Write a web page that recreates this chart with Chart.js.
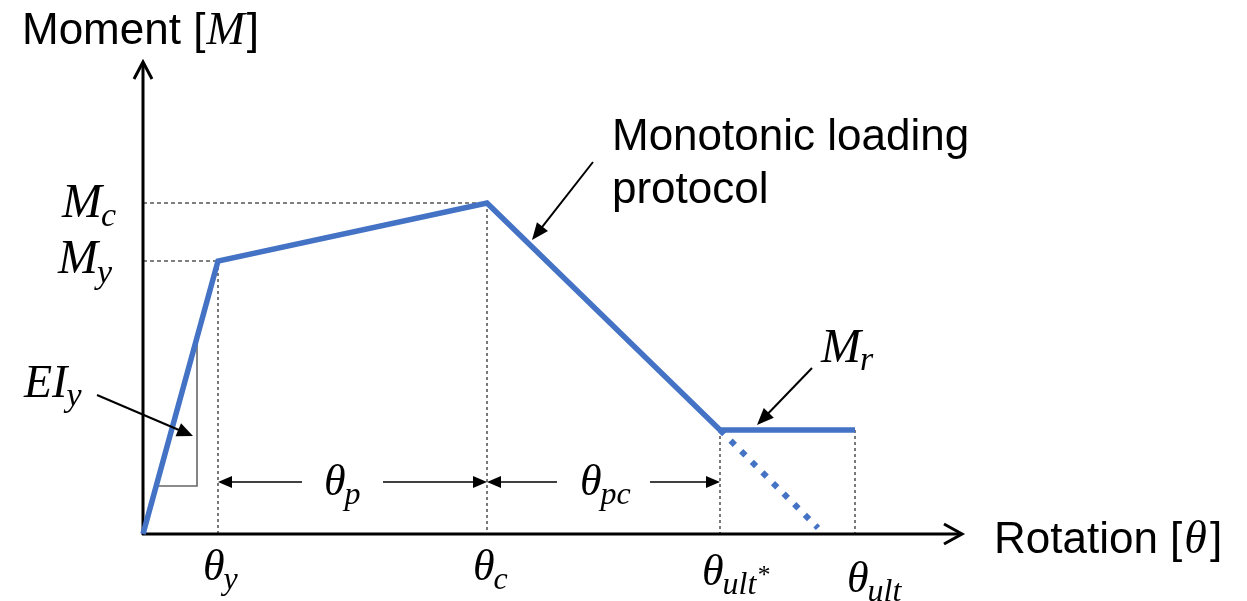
<!DOCTYPE html>
<html><head><meta charset="utf-8">
<script src="https://cdn.jsdelivr.net/npm/chart.js@4"></script>
<style>html,body{margin:0;padding:0;background:#fff;}#wrap{width:1247px;height:601px;}</style>
</head><body><div id="wrap"><canvas id="c" width="1247" height="601"></canvas></div>
<script>
// ---- data (schematic units) ----
const pointNames   = ['origin', 'yield', 'capping', 'ultimate*', 'ultimate'];
const thetaValues  = [0, 0.75, 3.44, 5.77, 7.12];
const momentValues = [0, 2.73, 3.31, 1.04, 1.04];
const dashedTheta  = [5.77, 6.75];
const dashedMoment = [1.04, 0.06];
const thetaTickLabels = [['θ','y'], ['θ','c'], ['θ','ult*'], ['θ','ult']];
const momentTickLabels = [['M','c'], ['M','y']];
const axisTitles = { x: 'Rotation', y: 'Moment' };
const calloutText = ['Monotonic loading', 'protocol'];
const slopeTriangle = { theta: 0.54, low: 0.48 };

const thY = thetaValues[1], thC = thetaValues[2], thU1 = thetaValues[3], thU = thetaValues[4];
const My = momentValues[1], Mc = momentValues[2], Mr = momentValues[3];

const BLUE = '#4472C4';
const SANS = '"Liberation Sans", Arial, sans-serif';
const SERIF = '"Liberation Serif", "Times New Roman", serif';

function toPts(xs, ys){ return xs.map((v,i)=>({x:v, y:ys[i]})); }

function line(ctx,x1,y1,x2,y2){ ctx.beginPath(); ctx.moveTo(x1,y1); ctx.lineTo(x2,y2); ctx.stroke(); }
function headFilled(ctx, tx, ty, fx, fy, len, half){
  const a = Math.atan2(ty-fy, tx-fx);
  ctx.beginPath();
  ctx.moveTo(tx,ty);
  ctx.lineTo(tx - len*Math.cos(a) + half*Math.sin(a), ty - len*Math.sin(a) - half*Math.cos(a));
  ctx.lineTo(tx - len*Math.cos(a) - half*Math.sin(a), ty - len*Math.sin(a) + half*Math.cos(a));
  ctx.closePath(); ctx.fill();
}
function arrow(ctx, fx, fy, tx, ty, len=15, half=6){
  const a = Math.atan2(ty-fy, tx-fx);
  line(ctx, fx, fy, tx - (len-2)*Math.cos(a), ty - (len-2)*Math.sin(a));
  headFilled(ctx, tx, ty, fx, fy, len, half);
}
function math(ctx, base, sub, x, y, size, subSize, subDrop, align){
  ctx.font = 'italic ' + size + 'px ' + SERIF;
  const bw = ctx.measureText(base).width;
  ctx.font = 'italic ' + subSize + 'px ' + SERIF;
  let s = sub, star = false;
  if (s.endsWith('*')) { star = true; s = s.slice(0,-1); }
  const sw = ctx.measureText(s).width;
  let starW = 0;
  if (star){ ctx.font = 'italic ' + (subSize*0.8) + 'px ' + SERIF; starW = ctx.measureText('*').width; }
  const total = bw + sw + starW;
  const x0 = align === 'center' ? x - total/2 : (align === 'right' ? x - total : x);
  ctx.textAlign = 'left'; ctx.textBaseline = 'alphabetic';
  ctx.font = 'italic ' + size + 'px ' + SERIF;
  ctx.fillText(base, x0, y);
  ctx.font = 'italic ' + subSize + 'px ' + SERIF;
  ctx.fillText(s, x0 + bw - 1, y + subDrop);
  if (star){ ctx.font = 'italic ' + (subSize*0.8) + 'px ' + SERIF; ctx.fillText('*', x0 + bw - 1 + sw, y + subDrop - subSize*0.35); }
}

const sketch = {
  id: 'sketch',
  beforeDatasetsDraw(chart){
    const {ctx, scales:{x, y}} = chart;
    const X = v => x.getPixelForValue(v), Y = v => y.getPixelForValue(v);
    ctx.save();
    // guide lines
    ctx.strokeStyle = '#555'; ctx.lineWidth = 1.3;
    ctx.setLineDash([4,3]);
    line(ctx, X(0), Y(Mc), X(thC), Y(Mc));
    line(ctx, X(0), Y(My), X(thY), Y(My));
    ctx.strokeStyle = '#222'; ctx.lineWidth = 1.2;
    ctx.setLineDash([3,3]);
    line(ctx, X(thY), Y(My), X(thY), Y(0));
    line(ctx, X(thC), Y(Mc), X(thC), Y(0));
    line(ctx, X(thU1), Y(Mr), X(thU1), Y(0));
    line(ctx, X(thU), Y(Mr), X(thU), Y(0));
    ctx.setLineDash([]);
    // slope triangle
    const tTop = slopeTriangle.theta * My / thY;
    const tLeft = slopeTriangle.low * thY / My;
    ctx.strokeStyle = '#666'; ctx.lineWidth = 1.6;
    ctx.beginPath();
    ctx.moveTo(X(slopeTriangle.theta), Y(tTop));
    ctx.lineTo(X(slopeTriangle.theta), Y(slopeTriangle.low));
    ctx.lineTo(X(tLeft), Y(slopeTriangle.low));
    ctx.stroke();
    // axes
    ctx.strokeStyle = '#000'; ctx.lineWidth = 3; ctx.lineJoin = 'miter'; ctx.lineCap = 'butt';
    line(ctx, X(0) - 1, Y(0), X(x.max) - 2, Y(0));
    line(ctx, X(0), Y(0) + 1, X(0), Y(y.max) + 2);
    ctx.beginPath();
    ctx.moveTo(X(x.max) - 18, Y(0) - 10); ctx.lineTo(X(x.max), Y(0)); ctx.lineTo(X(x.max) - 18, Y(0) + 10);
    ctx.stroke();
    ctx.beginPath();
    ctx.moveTo(X(0) - 9, Y(y.max) + 17); ctx.lineTo(X(0), Y(y.max)); ctx.lineTo(X(0) + 9, Y(y.max) + 17);
    ctx.stroke();
    ctx.restore();
  },
  afterDatasetsDraw(chart){
    const {ctx, scales:{x, y}} = chart;
    const X = v => x.getPixelForValue(v), Y = v => y.getPixelForValue(v);
    ctx.save();
    ctx.fillStyle = '#000'; ctx.strokeStyle = '#000';
    // axis titles
    ctx.textBaseline = 'alphabetic'; ctx.textAlign = 'left';
    ctx.font = '44px ' + SANS;
    let t = axisTitles.y + ' [';
    ctx.fillText(t, 22, 44);
    let w = ctx.measureText(t).width;
    ctx.font = 'italic 46px ' + SERIF;
    ctx.fillText('M', 22 + w + 1, 44);
    let w2 = ctx.measureText('M').width;
    ctx.font = '44px ' + SANS;
    ctx.fillText(']', 22 + w + w2 + 3, 44);

    t = axisTitles.x + ' [';
    ctx.fillText(t, 994, 553);
    w = ctx.measureText(t).width;
    ctx.font = 'italic 46px ' + SERIF;
    ctx.fillText('θ', 994 + w + 2, 553);
    w2 = ctx.measureText('θ').width;
    ctx.font = '44px ' + SANS;
    ctx.fillText(']', 994 + w + w2 + 5, 553);

    // callout text
    ctx.font = '44px ' + SANS;
    ctx.fillText(calloutText[0], 612, 150);
    ctx.fillText(calloutText[1], 612, 203);

    // y labels
    math(ctx, momentTickLabels[0][0], momentTickLabels[0][1], X(0) - 26, Y(Mc) + 14, 48, 34, 9, 'right');
    math(ctx, momentTickLabels[1][0], momentTickLabels[1][1], X(0) - 30, Y(My) + 12, 48, 34, 10, 'right');

    // x labels (left edges relative to their theta value)
    const xs = [thY, thC, thU1, thU];
    const dx = [-15, -14, -18, -8];
    const dy = [46, 46, 51, 58];
    thetaTickLabels.forEach((lab, i) => {
      math(ctx, lab[0], lab[1], X(xs[i]) + dx[i], Y(0) + dy[i], 44, 32, 9, 'left');
    });

    // EI_y
    math(ctx, 'EI', 'y', 24, 397, 46, 34, 9, 'left');
    ctx.lineWidth = 2;
    arrow(ctx, 97, 395, X(slopeTriangle.theta) - 4, Y(1.0) + 2, 16, 7);

    // Monotonic arrow
    arrow(ctx, 593, 162, 532, 240, 17, 7);
    // M_r
    math(ctx, 'M', 'r', 821, 362, 48, 34, 8, 'left');
    arrow(ctx, 812, 368, 757, Y(Mr) - 5, 17, 7);

    // dimension arrows
    const dimY = Y(0) - 52;
    ctx.lineWidth = 1.5;
    arrow(ctx, 302, dimY, X(thY), dimY, 14, 6);
    arrow(ctx, 383, dimY, X(thC), dimY, 14, 6);
    arrow(ctx, 557, dimY, X(thC), dimY, 14, 6);
    arrow(ctx, 650, dimY, X(thU1), dimY, 14, 6);
    math(ctx, 'θ', 'p', 324, dimY + 13, 44, 32, 9, 'left');
    math(ctx, 'θ', 'pc', 580, dimY + 13, 44, 32, 9, 'left');
    ctx.restore();
  }
};

new Chart(document.getElementById('c'), {
  type: 'scatter',
  data: {
    datasets: [
      { label: 'Monotonic loading protocol', data: toPts(thetaValues, momentValues), showLine: true,
        borderColor: BLUE, backgroundColor: BLUE, borderWidth: 5.5, pointRadius: 0, tension: 0,
        borderJoinStyle: 'miter', borderCapStyle: 'butt', clip: false },
      { label: 'degradation', data: toPts(dashedTheta, dashedMoment), showLine: true,
        borderColor: BLUE, borderWidth: 6, borderDash: [6, 9], pointRadius: 0, tension: 0, clip: false }
    ]
  },
  options: {
    responsive: false, animation: false, devicePixelRatio: 1,
    layout: { padding: { left: 143, right: 285, top: 62, bottom: 67 } },
    plugins: { legend: { display: false }, tooltip: { enabled: false } },
    scales: {
      x: { type: 'linear', min: 0, max: 8.19, display: false },
      y: { type: 'linear', min: 0, max: 4.72, display: false }
    }
  },
  plugins: [sketch]
});
</script></body></html>
